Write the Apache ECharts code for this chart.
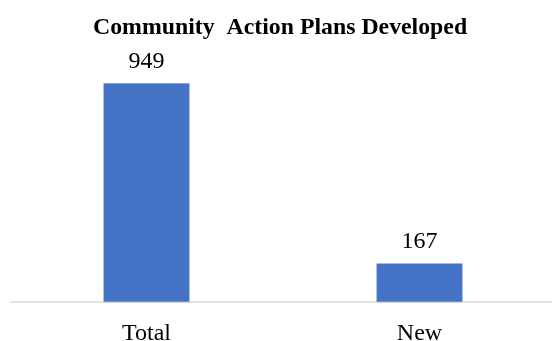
<!DOCTYPE html>
<html>
<head>
<meta charset="utf-8">
<script src="https://cdn.jsdelivr.net/npm/echarts@6/dist/echarts.min.js"></script>
<style>
  html, body { margin: 0; padding: 0; background: #ffffff; }
  #chart { width: 552px; height: 341px; }
</style>
</head>
<body>
<div id="chart"></div>
<script>
// Community action plans: cumulative total vs. newly developed
const chartTitle = 'Community  Action Plans Developed';
const categories = ['Total', 'New'];
const plansDeveloped = [949, 167];

const serif = '"Liberation Serif", "Times New Roman", serif';

const chart = echarts.init(document.getElementById('chart'), null, { renderer: 'canvas' });
chart.setOption({
  animation: false,
  backgroundColor: '#ffffff',
  title: {
    text: chartTitle,
    left: 88,
    top: 11,
    textStyle: { fontFamily: serif, fontSize: 23.8, fontWeight: 'bold', color: '#000000' }
  },
  // plot area runs a little past the right edge so the baseline reaches it
  grid: { left: 10, width: 546, top: 71.5, bottom: 39, containLabel: false, outerBoundsMode: 'none' },
  xAxis: {
    type: 'category',
    data: categories,
    axisLine: { show: true, lineStyle: { color: '#d9d9d9', width: 1.5 } },
    axisTick: { show: false },
    axisLabel: { fontFamily: serif, fontSize: 24, color: '#000000', margin: 20 }
  },
  yAxis: {
    type: 'value',
    min: 0,
    max: 1000,
    show: false,
    splitLine: { show: false }
  },
  series: [{
    type: 'bar',
    data: plansDeveloped,
    barWidth: 86,
    itemStyle: { color: '#4472c4', borderColor: '#6a8fd2', borderWidth: 0.6 },
    label: {
      show: true,
      position: 'top',
      distance: 10,
      fontFamily: serif,
      fontSize: 24,
      color: '#000000'
    }
  }]
});
</script>
</body>
</html>
